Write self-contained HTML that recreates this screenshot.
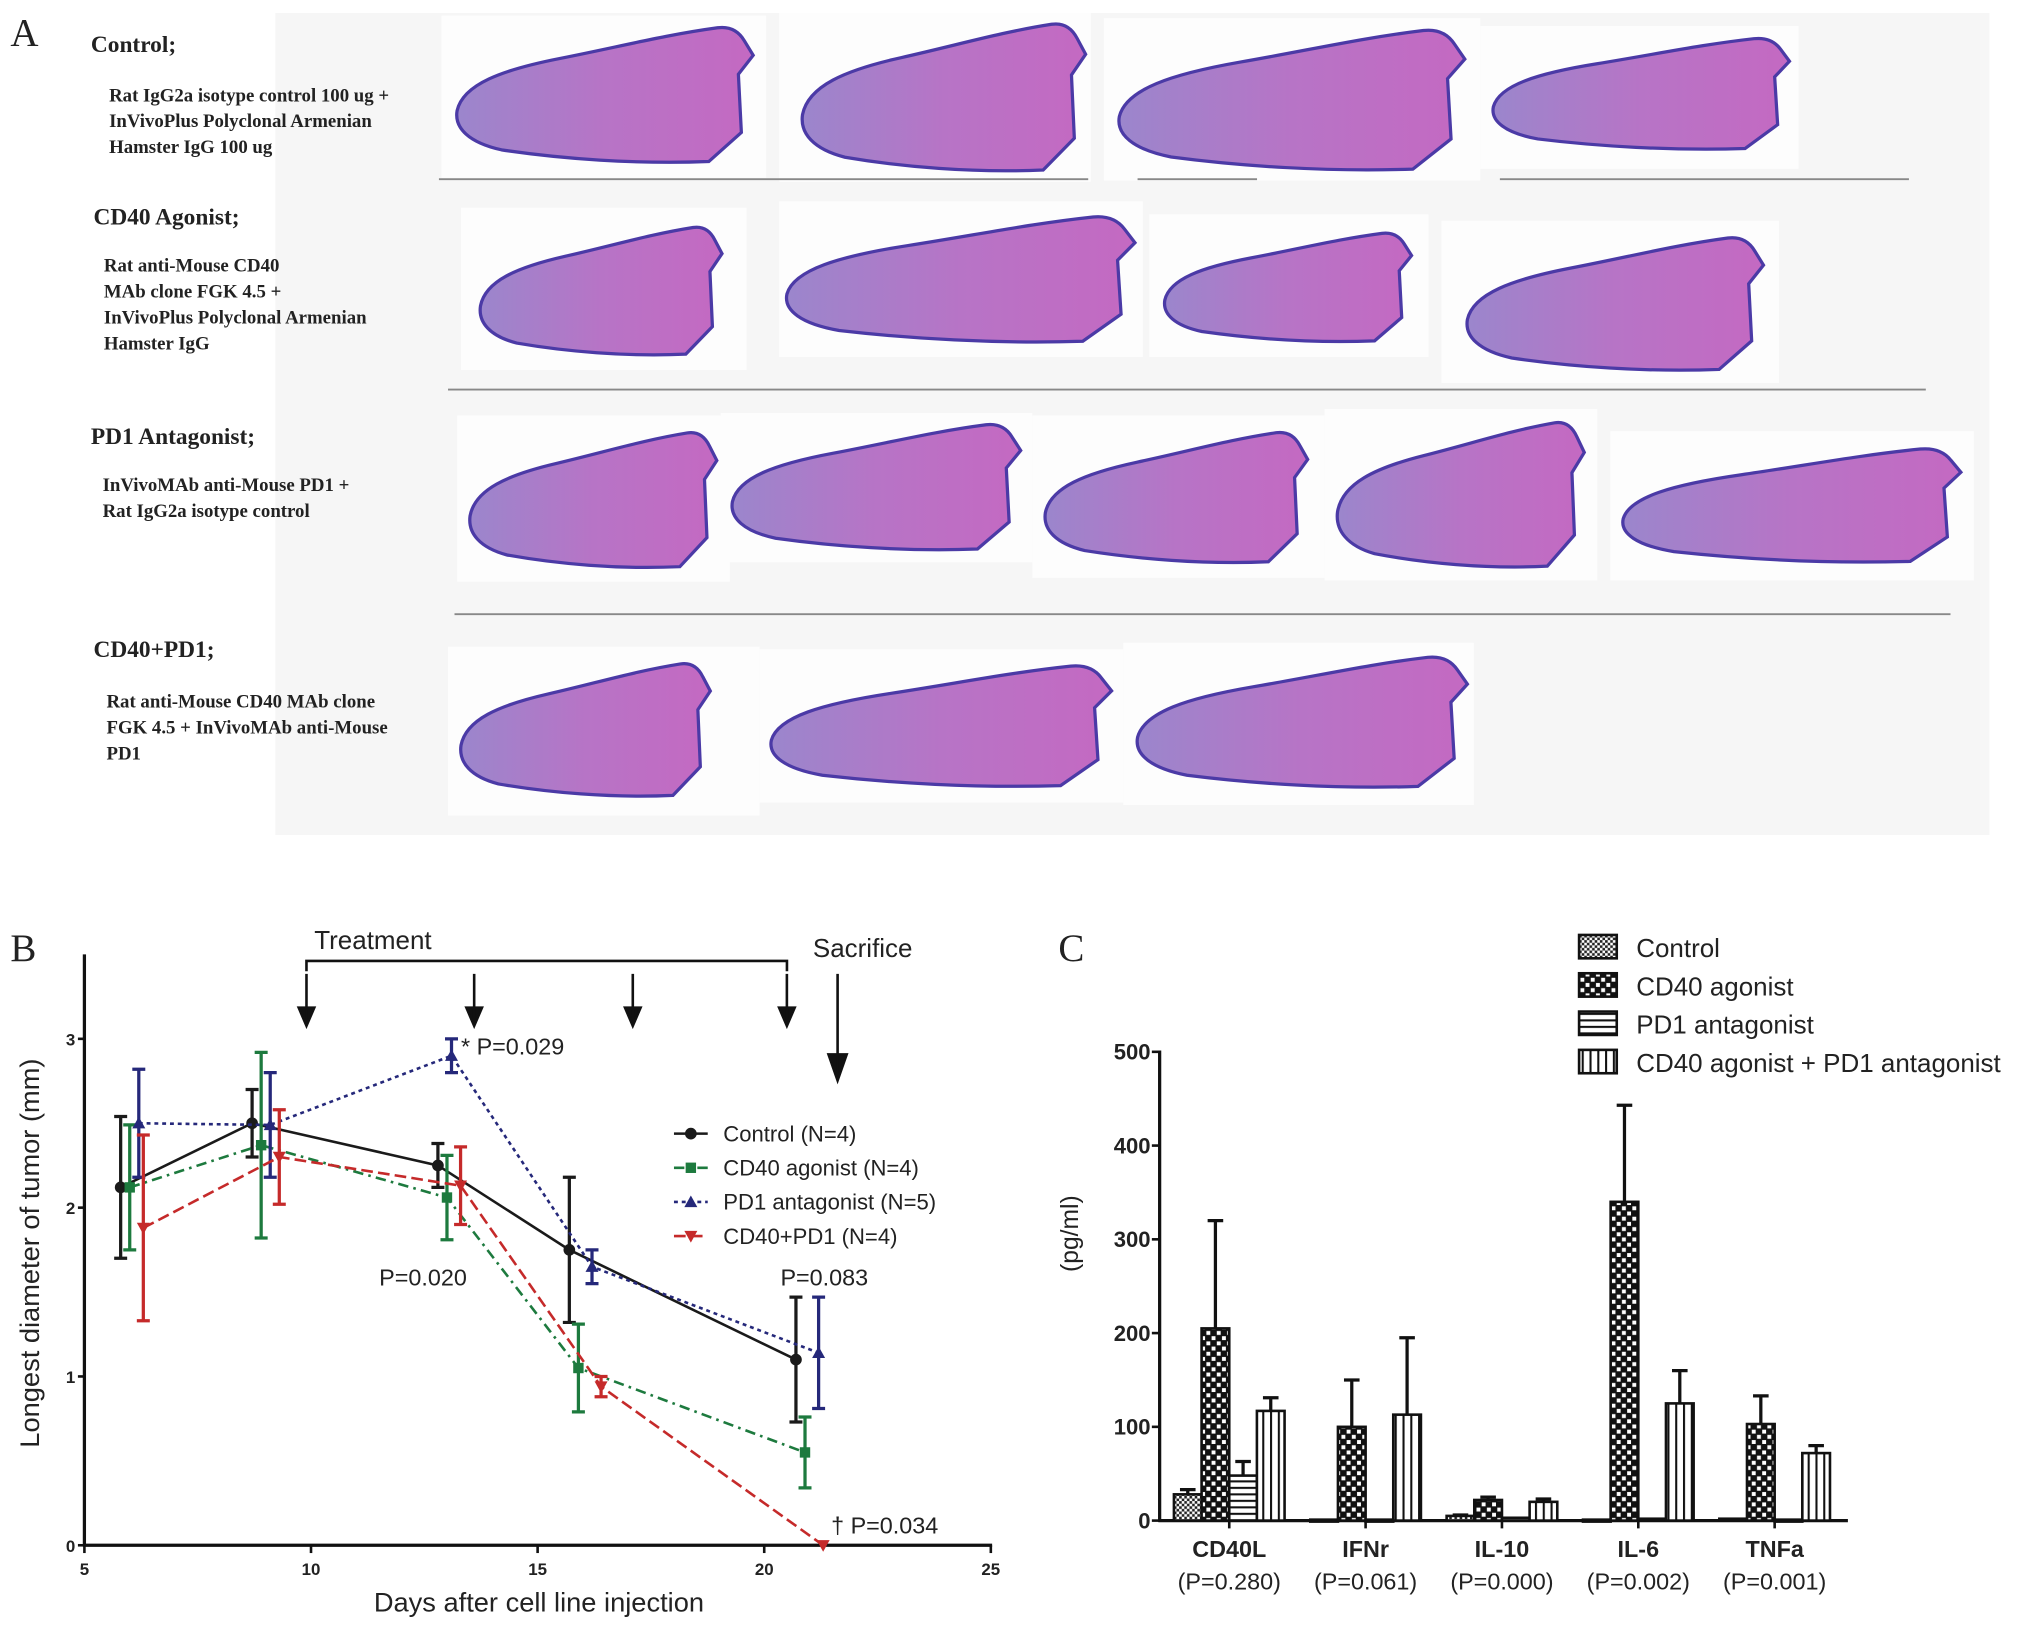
<!DOCTYPE html>
<html><head><meta charset="utf-8"><style>
html,body{margin:0;padding:0;background:#fff;}
svg{display:block;}
</style></head><body>
<svg id="fig" xmlns="http://www.w3.org/2000/svg" width="2031" height="1625" viewBox="0 0 1564 1251.4" preserveAspectRatio="none" font-family="'Liberation Sans', sans-serif">
<defs>
  <pattern id="pControl" width="4" height="4" patternUnits="userSpaceOnUse"><rect width="4" height="4" fill="#fff"/><rect width="2" height="2" fill="#222"/><rect x="2" y="2" width="2" height="2" fill="#222"/></pattern>
  <pattern id="pCD40" width="8" height="8" patternUnits="userSpaceOnUse"><rect width="8" height="8" fill="#111"/><rect x="1" y="1" width="3" height="3" fill="#fff"/><rect x="5" y="5" width="3" height="3" fill="#fff"/></pattern>
  <pattern id="pPD1" width="5" height="5" patternUnits="userSpaceOnUse"><rect width="5" height="5" fill="#fff"/><rect width="5" height="1.6" fill="#111"/></pattern>
  <pattern id="pCombo" width="6" height="6" patternUnits="userSpaceOnUse"><rect width="6" height="6" fill="#fff"/><rect width="1.6" height="6" fill="#111"/></pattern>
  <linearGradient id="tissue" x1="0" x2="1" y1="0" y2="0"><stop offset="0" stop-color="#9b86cc"/><stop offset="0.5" stop-color="#b774c6"/><stop offset="1" stop-color="#c469c2"/></linearGradient>
</defs>
<g id="panelA"></g>
<g id="panelB"></g>
<g id="panelC"></g>
</svg>
<script>
// ---- Panel B data ----
const bSeriesNames = ["Control (N=4)", "CD40 agonist (N=4)", "PD1 antagonist (N=5)", "CD40+PD1 (N=4)"];
const bControlX = [5.8, 8.7, 12.8, 15.7, 20.7];
const bControlY = [2.12, 2.5, 2.25, 1.75, 1.1];
const bControlErr = [0.42, 0.2, 0.13, 0.43, 0.37];
const bCD40X = [6.0, 8.9, 13.0, 15.9, 20.9];
const bCD40Y = [2.12, 2.37, 2.06, 1.05, 0.55];
const bCD40Err = [0.37, 0.55, 0.25, 0.26, 0.21];
const bPD1X = [6.2, 9.1, 13.1, 16.2, 21.2];
const bPD1Y = [2.5, 2.49, 2.9, 1.65, 1.14];
const bPD1Err = [0.32, 0.31, 0.1, 0.1, 0.33];
const bComboX = [6.3, 9.3, 13.3, 16.4, 21.3];
const bComboY = [1.88, 2.3, 2.13, 0.94, 0.0];
const bComboErr = [0.55, 0.28, 0.23, 0.06, 0.0];
const bXTicks = [5, 10, 15, 20, 25];
const bYTicks = [0, 1, 2, 3];
const treatmentDays = [9.9, 13.6, 17.1, 20.5];
// ---- Panel C data ----
const cCategories = ["CD40L", "IFNr", "IL-10", "IL-6", "TNFa"];
const cPValues = ["(P=0.280)", "(P=0.061)", "(P=0.000)", "(P=0.002)", "(P=0.001)"];
const cSeriesNames = ["Control", "CD40 agonist", "PD1 antagonist", "CD40 agonist + PD1 antagonist"];
const cControl = [28, 1, 5, 1, 2];
const cControlErr = [5, 0, 1, 0, 0];
const cCD40 = [205, 100, 22, 340, 103];
const cCD40Err = [115, 50, 3, 103, 30];
const cPD1 = [48, 1, 3, 2, 1];
const cPD1Err = [15, 0, 0, 0, 0];
const cCombo = [117, 113, 20, 125, 72];
const cComboErr = [14, 82, 3, 35, 8];
const cYTicks = [0, 100, 200, 300, 400, 500];

const NS = "http://www.w3.org/2000/svg";
function mk(parent, tag, attrs, text){
  const e = document.createElementNS(NS, tag);
  for (const k in attrs) e.setAttribute(k, attrs[k]);
  if (text !== undefined) e.textContent = text;
  parent.appendChild(e);
  return e;
}

// ================= PANEL A =================
const A = document.getElementById('panelA');
let bg = mk(A, 'rect', {x:212, y:10, width:1320, height:633, fill:'#f6f6f6'});


let la = mk(A, 'text', {x:8, y:35, 'font-family':"'Liberation Serif', serif", 'font-size':30, fill:'#222'}, 'A');


const groups = [
  {title:'Control;', tx:70, ty:40, lines:['Rat IgG2a isotype control 100 ug +','InVivoPlus Polyclonal Armenian','Hamster IgG 100 ug'], lx:84, ly:78, name:'control'},
  {title:'CD40 Agonist;', tx:72, ty:173, lines:['Rat anti-Mouse CD40','MAb clone FGK 4.5 +','InVivoPlus Polyclonal Armenian','Hamster IgG'], lx:80, ly:209, name:'cd40-agonist'},
  {title:'PD1 Antagonist;', tx:70, ty:342, lines:['InVivoMAb anti-Mouse PD1 +','Rat IgG2a isotype control'], lx:79, ly:378, name:'pd1-antagonist'},
  {title:'CD40+PD1;', tx:72, ty:506, lines:['Rat anti-Mouse CD40 MAb clone','FGK 4.5 + InVivoMAb anti-Mouse','PD1'], lx:82, ly:545, name:'cd40-pd1'}
];
groups.forEach(g=>{
  let t = mk(A,'text',{x:g.tx,y:g.ty,'font-family':"'Liberation Serif', serif",'font-size':18,'font-weight':'bold',fill:'#222'},g.title);
  
  
  g.lines.forEach((l,i)=>{
    let d = mk(A,'text',{x:g.lx,y:g.ly+i*20,'font-family':"'Liberation Serif', serif",'font-size':14.5,'font-weight':'bold',fill:'#222'},l);
    
    
  });
});
const tissues = [
  [352,18,228,112],[618,15,218,122],[862,20,266,116],[1150,27,228,92],
  [370,172,186,106],[606,164,268,104],[897,177,190,90],[1130,180,228,110],
  [362,330,190,112],[564,324,222,104],[805,330,202,108],[1030,322,190,120],[1250,343,260,94],
  [355,508,192,110],[594,510,262,100],[876,503,254,108]
];
const tissueBoxes = [
  [340,12,250,125],[600,10,240,130],[850,14,290,125],[1140,20,245,110],
  [355,160,220,125],[600,155,280,120],[885,165,215,110],[1110,170,260,125],
  [352,320,210,128],[555,318,240,115],[795,320,225,125],[1020,315,210,132],[1240,332,280,115],
  [345,498,240,130],[585,500,280,118],[865,495,270,125]
];
tissueBoxes.forEach(b=>{
  let r = mk(A,'rect',{x:b[0],y:b[1],width:b[2],height:b[3],fill:'#fdfdfd'});
  
  
});
tissues.forEach((t,i)=>{
  const [x,y,w,h]=t;
  const p=(u,v)=>(x+u*w).toFixed(1)+','+(y+v*h).toFixed(1);
  const d='M'+p(0,0.6)+' C'+p(0.02,0.42)+' '+p(0.15,0.32)+' '+p(0.35,0.24)+' C'+p(0.55,0.16)+' '+p(0.7,0.08)+' '+p(0.88,0.03)
    +' C'+p(0.92,0.02)+' '+p(0.95,0.05)+' '+p(0.97,0.12)+' L'+p(1,0.22)+' L'+p(0.95,0.35)+' L'+p(0.96,0.75)+' L'+p(0.85,0.95)+' C'+p(0.6,0.97)+' '+p(0.35,0.93)+' '+p(0.15,0.87)+' C'+p(0.04,0.82)+' '+p(-0.01,0.72)+' '+p(0,0.6)+' Z';
  let s = mk(A,'path',{d:d,fill:'url(#tissue)',stroke:'#4b3aa6','stroke-width':2.5});
  
  
});
const sepLines = [[338,838,138],[876,968,138],[1155,1470,138],[345,1483,300],[350,1502,473]];
sepLines.forEach(l=>{
  let e = mk(A,'line',{x1:l[0],x2:l[1],y1:l[2],y2:l[2],stroke:'#888','stroke-width':1.5});
  
  
});

// ================= PANEL B =================
const B = document.getElementById('panelB');
const bx = v => 65 + (v-5)*(763-65)/20;
const by = v => 1190 - v*130;
let lb = mk(B,'text',{x:8,y:740,'font-family':"'Liberation Serif', serif",'font-size':30,fill:'#222'},'B');


let yax = mk(B,'line',{x1:65,x2:65,y1:735,y2:1191,stroke:'#111','stroke-width':2.5});


let xax = mk(B,'line',{x1:64,x2:764,y1:1190,y2:1190,stroke:'#111','stroke-width':2.5});


bYTicks.forEach(v=>{
  let t = mk(B,'line',{x1:60,x2:65,y1:by(v),y2:by(v),stroke:'#111','stroke-width':2});
  
  
  let l = mk(B,'text',{x:58,y:by(v)+5,'text-anchor':'end','font-size':13,'font-weight':'bold',fill:'#222'},String(v));
  
  
});
bXTicks.forEach(v=>{
  let t = mk(B,'line',{x1:bx(v),x2:bx(v),y1:1190,y2:1196,stroke:'#111','stroke-width':2});
  
  
  let l = mk(B,'text',{x:bx(v),y:1213,'text-anchor':'middle','font-size':13,'font-weight':'bold',fill:'#222'},String(v));
  
  
});
let xt = mk(B,'text',{x:415,y:1241,'text-anchor':'middle','font-size':21,fill:'#222'},'Days after cell line injection');


let yt = mk(B,'text',{x:0,y:0,transform:'translate(30,965) rotate(-90)','text-anchor':'middle','font-size':21,fill:'#222'},'Longest diameter of tumor (mm)');


let tb = mk(B,'path',{d:'M236,748 L236,740 L606,740 L606,748',fill:'none',stroke:'#111','stroke-width':2});


let tt = mk(B,'text',{x:242,y:731,'font-size':20,fill:'#222'},'Treatment');


treatmentDays.forEach(d=>{
  const x=bx(d);
  let a = mk(B,'path',{d:`M${x},750 L${x},788 M${x-6},776 L${x},790 L${x+6},776 Z`,fill:'#111',stroke:'#111','stroke-width':2});
  
  
});
let sa = mk(B,'path',{d:'M645,750 L645,828 M638,812 L645,832 L652,812 Z',fill:'#111',stroke:'#111','stroke-width':2});


let st = mk(B,'text',{x:626,y:737,'font-size':20,fill:'#222'},'Sacrifice');



const series = [
  {x:bControlX,y:bControlY,e:bControlErr,color:'#1a1a1a',dash:'',marker:'circle',name:'control'},
  {x:bCD40X,y:bCD40Y,e:bCD40Err,color:'#1d7a3e',dash:'8,4,2,4',marker:'square',name:'cd40-agonist'},
  {x:bPD1X,y:bPD1Y,e:bPD1Err,color:'#25287a',dash:'3,3',marker:'triUp',name:'pd1-antagonist'},
  {x:bComboX,y:bComboY,e:bComboErr,color:'#c52a2a',dash:'9,4',marker:'triDown',name:'cd40-pd1'}
];
function marker(g,type,x,y,c){
  if(type==='circle') return mk(g,'circle',{cx:x,cy:y,r:4.5,fill:c});
  if(type==='square') return mk(g,'rect',{x:x-4,y:y-4,width:8,height:8,fill:c});
  if(type==='triUp') return mk(g,'path',{d:`M${x},${y-5} L${x+5},${y+4} L${x-5},${y+4} Z`,fill:c});
  return mk(g,'path',{d:`M${x},${y+5} L${x+5},${y-4} L${x-5},${y-4} Z`,fill:c});
}
series.forEach(s=>{
  const g = mk(B,'g',{});
  
  
  const pts = s.x.map((v,i)=>bx(v).toFixed(1)+','+by(s.y[i]).toFixed(1)).join(' ');
  let pl = mk(g,'polyline',{points:pts,fill:'none',stroke:s.color,'stroke-width':2,'stroke-dasharray':s.dash});
  
  
  s.x.forEach((v,i)=>{
    const x=bx(v), y0=by(s.y[i]-s.e[i]), y1=by(s.y[i]+s.e[i]);
    if(s.e[i]>0){
      let eb = mk(g,'path',{d:`M${x},${y0} L${x},${y1} M${x-5},${y0} L${x+5},${y0} M${x-5},${y1} L${x+5},${y1}`,stroke:s.color,'stroke-width':2.5,fill:'none'});
      
      
    }
    let m = marker(g,s.marker,x,by(s.y[i]),s.color);
    
    
  });
});
const ann = [['* P=0.029',355,812],['P=0.020',292,990],['P=0.083',601,990],['† P=0.034',640,1181]];
ann.forEach(a=>{
  let t = mk(B,'text',{x:a[1],y:a[2],'font-size':18,fill:'#222'},a[0]);
  
  
});
series.forEach((s,i)=>{
  const y=873+i*26.3;
  const g = mk(B,'g',{});
  
  
  mk(g,'line',{x1:519,x2:545,y1:y,y2:y,stroke:s.color,'stroke-width':2,'stroke-dasharray':s.dash});
  marker(g,s.marker,532,y,s.color);
  mk(g,'text',{x:557,y:y+6,'font-size':17,fill:'#222'},bSeriesNames[i]);
});

// ================= PANEL C =================
const C = document.getElementById('panelC');
const cy = v => 1171 - v*(1171-810)/500;
const bw = 21.3, gStart = 904, gStep = 105;
const axX = 893;
let lc = mk(C,'text',{x:815,y:740,'font-family':"'Liberation Serif', serif",'font-size':30,fill:'#222'},'C');


let cya = mk(C,'line',{x1:axX,x2:axX,y1:809,y2:1172,stroke:'#111','stroke-width':2.5});


let cxa = mk(C,'line',{x1:axX-1,x2:1423,y1:1171,y2:1171,stroke:'#111','stroke-width':2.5});


cYTicks.forEach(v=>{
  let t = mk(C,'line',{x1:axX-6,x2:axX,y1:cy(v),y2:cy(v),stroke:'#111','stroke-width':2});
  
  
  let l = mk(C,'text',{x:axX-7,y:cy(v)+6,'text-anchor':'end','font-size':17,'font-weight':'bold',fill:'#222'},String(v));
  
  
});
let cyt = mk(C,'text',{x:0,y:0,transform:'translate(830,950) rotate(-90)','text-anchor':'middle','font-size':19,fill:'#222'},'(pg/ml)');


const cSeries = [[cControl,cControlErr,'url(#pControl)','control'],[cCD40,cCD40Err,'url(#pCD40)','cd40-agonist'],[cPD1,cPD1Err,'url(#pPD1)','pd1-antagonist'],[cCombo,cComboErr,'url(#pCombo)','cd40-pd1']];
cCategories.forEach((cat,ci)=>{
  const x0 = gStart + ci*gStep;
  cSeries.forEach((s,si)=>{
    const x = x0 + si*bw, v=s[0][ci], e=s[1][ci];
    if(e>0){
      let eb = mk(C,'path',{d:`M${x+bw/2},${cy(v)} L${x+bw/2},${cy(v+e)} M${x+bw/2-6},${cy(v+e)} L${x+bw/2+6},${cy(v+e)}`,stroke:'#111','stroke-width':2.5,fill:'none'});
      
      
    }
    let r = mk(C,'rect',{x:x,y:cy(v),width:bw,height:Math.max(cy(0)-cy(v),1.5),fill:s[2],stroke:'#111','stroke-width':2});
    
    
  });
  const cx = x0 + 2*bw;
  let tk = mk(C,'line',{x1:cx,x2:cx,y1:1171,y2:1177,stroke:'#111','stroke-width':2});
  
  
  let l = mk(C,'text',{x:cx,y:1199,'text-anchor':'middle','font-size':18,'font-weight':'bold',fill:'#222'},cat);
  
  
  let p = mk(C,'text',{x:cx,y:1224,'text-anchor':'middle','font-size':18,fill:'#222'},cPValues[ci]);
  
  
});
cSeries.forEach((s,i)=>{
  const y = 730 + i*29.5;
  const g = mk(C,'g',{});
  
  
  mk(g,'rect',{x:1216,y:y-10,width:29,height:18,fill:s[2],stroke:'#111','stroke-width':2});
  mk(g,'text',{x:1260,y:y+7,'font-size':20,fill:'#222'},cSeriesNames[i]);
});
</script>
</body></html>
